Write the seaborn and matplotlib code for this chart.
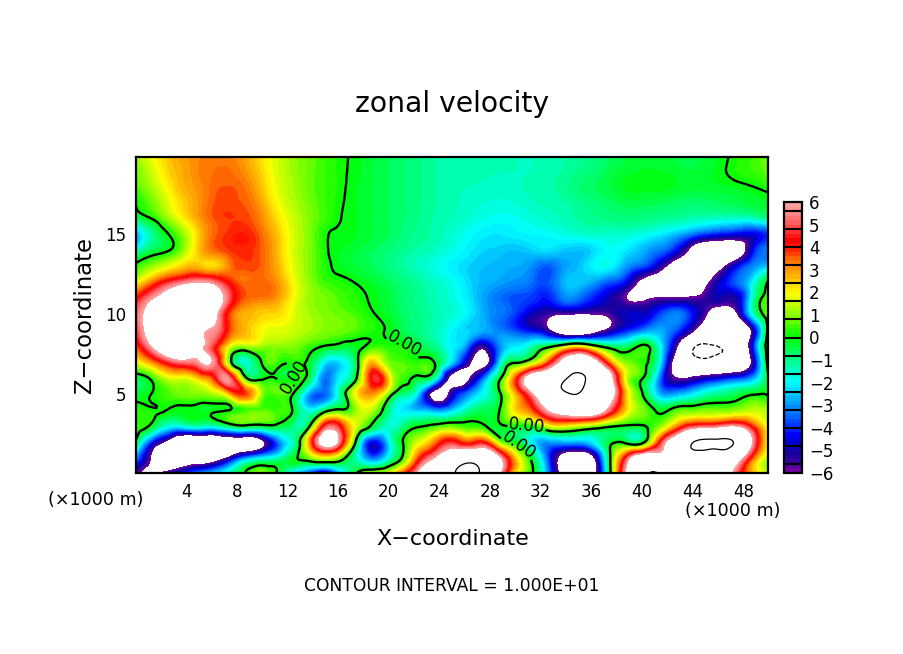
import numpy as np
import matplotlib
matplotlib.use("Agg")
import matplotlib.pyplot as plt
import matplotlib.tri as mtri
from matplotlib.cm import ScalarMappable
from matplotlib.colors import ListedColormap, BoundaryNorm
from matplotlib.ticker import MultipleLocator
import seaborn as sns

x_km = [1.25 * i for i in range(41)]
z_km = list(range(21))

z00 = [-5.4,-7,-5,-4.3,-3,-2.3,-1.2,.1,.9,-.2,-3,-4.2,-6,-2.5,.1,1.6,1.8,4,6.5,9,9.8,10.5,9.5,6,1.8,.2,-3,-7,-10.1,-7,-.1,6,9,10.2,9,9,8.5,8,5,2.8,1.1]
z01 = [-3,-6.2,-9,-8.5,-8,-7.5,-5.4,-3.2,-2.2,-1.5,-.2,.8,1.7,.6,-1.6,-3.5,-1.8,.5,4,6,8,9,8.5,6,2.5,-.2,-3.5,-7,-8,-6,0,4.5,7.5,7,7.3,9,8.5,8.2,7,3.5,1.2]
z02 = [-.1,-4,-6.5,-9,-9,-9,-8,-8,-6.5,-3.5,-1.3,3,7,4.8,-.6,-4.5,-2.3,.2,1.7,3.3,4.5,3.5,4,1,-.2,-2,-3,-2.8,-2.8,-2,-.3,-.4,-.5,3.5,7,9.5,10.5,10.5,9.5,5.6,1.8]
z03 = [.4,-.2,-1.7,-1.8,-1.4,-1.5,-.6,-.2,-.3,-.3,-1,-.1,4.6,4,1.5,-.3,-1.6,-.9,-.1,.3,.6,.3,.1,-.2,0,.1,1.5,2,1.5,.9,.2,-.1,-.1,.7,2.5,4.4,4.8,5.2,5.5,3.8,1.6]
z04 = [.3,.1,0,-.15,-.2,-.15,0,.4,.6,.4,-.2,-2,-.6,.1,1.2,1.3,-1,-2.2,-2.7,-3.2,-2.6,-1.3,-.6,0,2.3,3.5,5.8,7,8,7.5,5,2.3,.9,-.2,.3,.6,.8,.8,1,1.4,1.2]
z05 = [-.4,0,.5,.8,.9,1.3,2.8,3.7,1,.6,-.1,-3,-3.5,-1,2.2,3,.8,-1,-3,-7,-5.2,-3.3,-1.9,-.2,2.6,5.3,8,9.5,9.9,8.5,7,2.5,.1,-2.5,-3,-2.4,-1.5,-1,-.6,-.1,-.1]
z06 = [-.5,.2,1.5,1.7,2.5,4,5,.1,-.2,-.1,0,-.6,-3.4,-2,.1,4.5,2.3,.4,-.3,-1.8,-7,-6.5,-3.5,-.3,3.5,7,8,9.5,10.5,9,6.5,1.6,.1,-2.8,-5.8,-5.9,-5.2,-4.6,-4,-3,-.1]
z07 = [1.6,3,4.5,5.3,5.7,5.4,.3,-1.6,.1,.4,.2,-.3,-2.2,-2.2,-.3,2.6,.8,.5,.3,-.2,-2.4,-5.4,-7,-2.5,-.2,.9,3.3,6.5,8,6.7,3,.9,.3,-1.5,-6.5,-9,-9.5,-9.3,-9,-5.5,.8]
z08 = [3.5,5.8,8,8.5,6.5,4.5,1.7,1.2,1.1,1,.9,.4,-.05,-.3,-.2,.3,.2,.1,-.5,-1.1,-2.1,-3.4,-5.4,-3.2,-2.2,-1.5,-.5,.8,1.8,.4,-.7,-.9,.2,-1.5,-5,-9,-10.3,-9.9,-9.2,-4.5,1]
z09 = [4.5,7,9,9,6.6,5.6,3.6,2.6,1.9,1.7,1.5,1.2,.9,.75,.5,.2,-.1,-.6,-1,-1.4,-2,-2.4,-2.8,-3.2,-3.8,-4.5,-5.5,-8,-8.5,-7,-5.5,-4.3,-3.4,-2.8,-3.5,-5.2,-7.5,-9,-9,-5.4,.6]
z10 = [5,7,9,9.2,9,6.5,3.6,2.7,2.4,2.3,1.7,1.2,.9,.7,.45,.05,-.3,-.7,-1,-1.3,-1.6,-2.1,-2.8,-3.3,-3.9,-4.9,-5.5,-6,-6.1,-6,-5.6,-4.8,-4.8,-4,-3.2,-4,-5.8,-7.5,-6.2,-1.8,.7]
z11 = [4,5.6,7,8.5,9,7.5,4.8,3.5,3.3,2.9,1.9,1.1,.8,.5,.2,-.1,-.4,-.8,-1.1,-1.4,-1.7,-2.2,-2.9,-3.4,-3.7,-3.9,-4.2,-3.3,-3.4,-4.2,-5,-6,-6.4,-5.9,-5.9,-5.8,-5.5,-5,-5,-1.6,.6]
z12 = [1.6,3.2,4.5,5.3,5.8,5.3,4,3.4,3.5,3,1.9,1,.4,.2,-.05,-.3,-.6,-.9,-1.2,-1.5,-1.8,-2.3,-2.7,-2.9,-3.1,-3.4,-3.7,-2.8,-2.5,-3,-3.7,-4.5,-6.5,-7,-8,-8,-6.5,-4.7,-3.5,-2,.2]
z13 = [.2,1,1.7,2.4,2.6,2.3,3.3,3.7,3.5,2.7,1.7,.9,.2,-.2,-.4,-.6,-.9,-1.2,-1.5,-1.8,-2.1,-2.4,-2.6,-2.7,-2.8,-3.1,-3.6,-3,-2.6,-2,-2,-3,-3.7,-5,-7,-8,-8,-6.5,-4.5,-3.2,-2.5]
z14 = [-1.8,-.6,-.1,1,2.5,3.4,3.8,3.9,3.5,2.6,1.6,.9,.1,-.2,-.4,-.6,-.85,-1.1,-1.3,-1.5,-1.8,-2.1,-2.4,-2.5,-2.6,-2.45,-2.3,-2.5,-2.6,-2.3,-1.9,-2.2,-2.7,-3.3,-4.2,-6.3,-8,-8,-7.5,-4.5,-3.3]
z15 = [-3,-1.2,-.1,1,2.4,3.5,3.9,4,3.4,2.5,1.6,.9,.1,-.1,-.2,-.4,-.6,-.9,-1.1,-1.3,-1.6,-1.9,-2.15,-2.2,-2.1,-2,-1.95,-1.8,-1.65,-1.55,-1.55,-1.6,-1.8,-2.1,-2.6,-3.3,-4,-4.4,-4.6,-4.6,-4]
z16 = [-.7,0,1,2,2.9,3.6,3.8,3.7,3.1,2.2,1.5,.9,.4,0,-.2,-.4,-.6,-.8,-1.05,-1.25,-1.4,-1.6,-1.8,-1.9,-1.85,-1.7,-1.55,-1.4,-1.2,-1.05,-.95,-.9,-.95,-1.05,-1.15,-1.3,-1.45,-1.55,-1.6,-1.5,-1.1]
z17 = [0,.7,1.6,2.4,3,3.6,3.7,3.5,2.8,1.9,1.3,.8,.4,.05,-.2,-.4,-.6,-.8,-1,-1.2,-1.35,-1.5,-1.6,-1.65,-1.6,-1.45,-1.35,-1.25,-1.05,-.85,-.65,-.5,-.5,-.55,-.65,-.75,-.7,-.6,-.5,-.35,-.2]
z18 = [.5,1.2,2,2.7,3.1,3.5,3.6,3.3,2.5,1.7,1.2,.7,.4,.1,-.2,-.4,-.6,-.8,-1,-1.2,-1.3,-1.4,-1.45,-1.5,-1.45,-1.35,-1.25,-1.1,-.8,-.6,-.4,-.15,-.1,-.1,-.2,-.3,-.3,-.25,-.15,0,.2]
z19 = [.8,1.5,2.3,2.8,3.2,3.4,3.4,3,2.3,1.6,1.1,.7,.4,.1,-.15,-.4,-.6,-.8,-1,-1.2,-1.3,-1.3,-1.35,-1.4,-1.4,-1.4,-1.3,-1.2,-1,-.8,-.5,-.3,-.2,-.2,-.3,-.4,-.3,-.1,.2,.4,.7]
z20 = [1.2,1.9,2.5,2.9,3.1,3.3,3.2,2.8,2.2,1.5,1.1,.7,.4,.1,-.15,-.4,-.6,-.8,-1,-1.2,-1.3,-1.3,-1.3,-1.35,-1.4,-1.4,-1.3,-1.2,-1.1,-.9,-.6,-.4,-.3,-.3,-.4,-.5,-.4,-.1,.1,.4,.8]

band_colors = ["#7000a0","#3000a0","#1800a0","#0000c8","#0000ff","#0030ff","#0060ff","#0088ff",
               "#00b0ff","#00d8ff","#00ffff","#00ffd0","#00ffa0","#00ff70","#00ff40","#00ff00",
               "#30ff00","#70ff00","#a0ff00","#d0ff00","#ffff00","#ffd800","#ffb000","#ff8c00",
               "#ff6000","#ff2000","#ff0000","#ff3030","#ff6060","#ff8888","#ffa0a0"]
tick_vals = [-6,-5,-4,-3,-2,-1,0,1,2,3,4,5,6]
x_ticks = [4,8,12,16,20,24,28,32,36,40,44,48]
y_ticks = [5,10,15]

sns.set_theme(style="ticks", font="DejaVu Sans")
W, H = 904, 654
fig = plt.figure(figsize=(W/100, H/100), dpi=100, facecolor="white")
ax = fig.add_axes([136/W, 1-473/H, 632/W, 316/H])

field = np.array([z00,z01,z02,z03,z04,z05,z06,z07,z08,z09,z10,z11,z12,z13,z14,z15,z16,z17,z18,z19,z20], float)
X, Z = np.meshgrid(x_km, z_km)
tri = mtri.Triangulation(X.ravel(), Z.ravel())
interp = mtri.CubicTriInterpolator(tri, field.ravel(), kind="min_E")
refiner = mtri.UniformTriRefiner(tri)
tri_f, field_f = refiner.refine_field(field.ravel(), triinterpolator=interp, subdiv=3)

levels = np.linspace(-6, 6, 61)
cmap = ListedColormap(sns.blend_palette(band_colors, n_colors=60))
cmap.set_over("white"); cmap.set_under("white")
norm = BoundaryNorm(levels, cmap.N)
ax.tricontourf(tri_f, field_f, levels=levels, cmap=cmap, norm=norm, extend="both")
ax.tricontour(tri_f, field_f, levels=[10], colors="black", linewidths=0.9, linestyles="solid")
ax.tricontour(tri_f, field_f, levels=[-10], colors="black", linewidths=0.9, linestyles="dashed")
c0 = ax.tricontour(tri_f, field_f, levels=[0], colors="black", linewidths=1.7)
ax.clabel(c0, fmt="%.2f", fontsize=12, inline=True, inline_spacing=1,
          manual=[(21.2, 8.0), (12.7, 6.0), (30.9, 3.0), (30.2, 1.7)])

ax.set_xlim(0.05, 49.95)
ax.set_ylim(0.05, 19.85)
ax.set_xticks(x_ticks); ax.set_yticks(y_ticks)
ax.xaxis.set_minor_locator(MultipleLocator(2))
ax.yaxis.set_minor_locator(MultipleLocator(1))
ax.tick_params(which="major", direction="in", top=True, right=True, length=8, width=1.3, labelsize=12, colors="black", pad=7)
ax.tick_params(which="minor", direction="in", top=True, right=True, length=4, width=1.0, colors="black")
for s in ax.spines.values():
    s.set_linewidth(1.6); s.set_color("black"); s.set_visible(True)
    s.set_zorder(10)

cax = fig.add_axes([784/W, 1-473/H, 18/W, 271/H])
cb = fig.colorbar(ScalarMappable(norm=norm, cmap=cmap), cax=cax, extend="neither", ticks=tick_vals, spacing="proportional")
cb.ax.minorticks_off()
cb.ax.tick_params(which="both", length=0, labelsize=12, colors="black", pad=5)
cb.outline.set_linewidth(1.6); cb.outline.set_edgecolor("black")
cb.ax.hlines(np.arange(-5.6, 5.7, 0.8), 0, 1, transform=cb.ax.get_yaxis_transform(), colors="black", linewidth=1.5)

fig.text(452/W, 1-104/H, "zonal velocity", ha="center", va="center", fontsize=20.3, color="black")
fig.text(452.5/W, 1-539/H, "X\u2212coordinate", ha="center", va="center", fontsize=16, color="black")
fig.text(84/W, 1-315/H, "Z\u2212coordinate", ha="center", va="center", rotation=90, fontsize=16.4, color="black")
fig.text(96/W, 1-500/H, "(\u00d71000 m)", ha="center", va="center", fontsize=12.6, color="black")
fig.text(732.5/W, 1-511/H, "(\u00d71000 m)", ha="center", va="center", fontsize=12.6, color="black")
fig.text(451.5/W, 1-586/H, "CONTOUR INTERVAL = 1.000E+01", ha="center", va="center", fontsize=12.3, color="black")

fig.savefig("out.png", dpi=100, facecolor="white")
